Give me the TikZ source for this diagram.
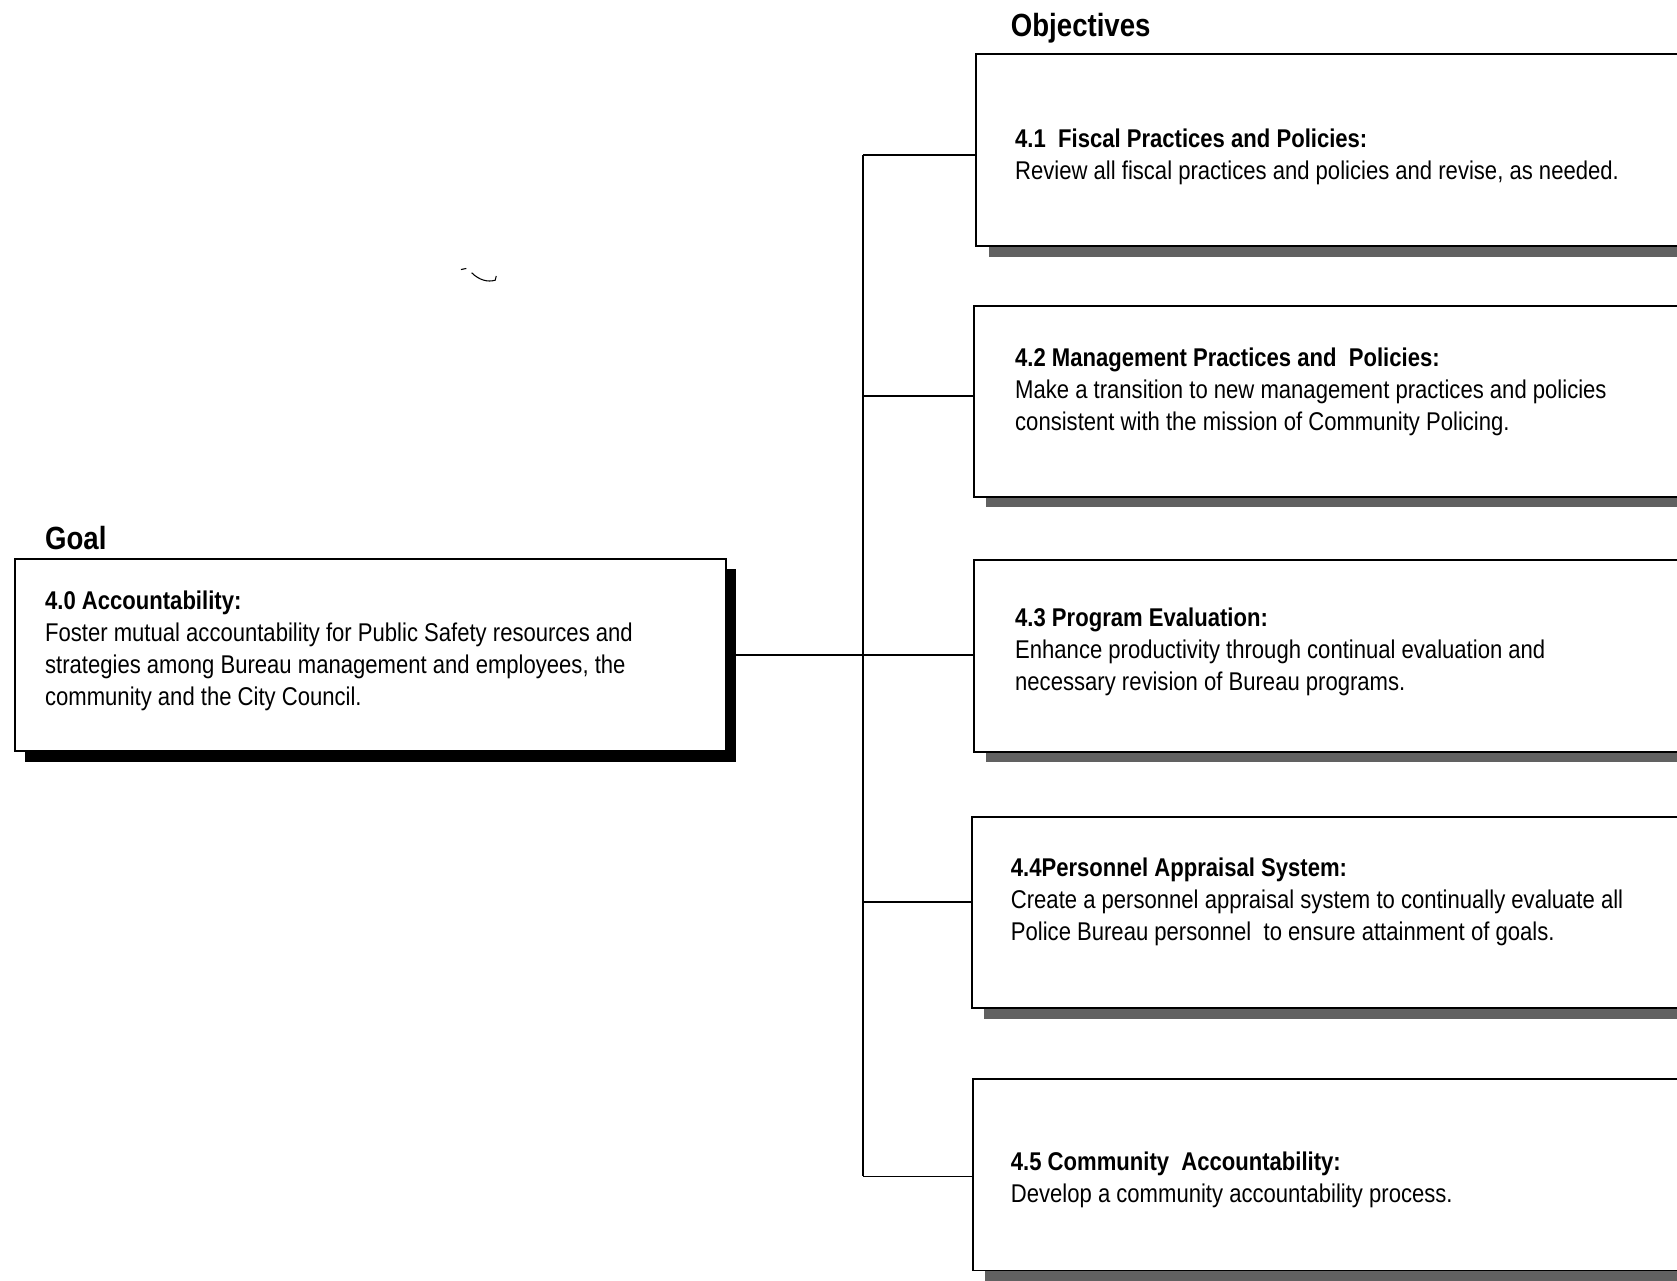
\documentclass[tikz,border=0pt]{standalone}
\usepackage{fontspec}
\setmainfont[FakeStretch=0.86]{Liberation Sans}
\begin{document}
\begin{tikzpicture}[x=1pt,y=-1pt,
  obox/.style={draw,line width=1.8pt,fill=white,minimum width=740pt,minimum height=179pt,anchor=north west,inner sep=0pt},
  gbox/.style={draw,line width=1.8pt,fill=white,minimum width=665pt,minimum height=179pt,anchor=north west,inner sep=0pt},
  txt/.style={anchor=north west,inner sep=0pt,align=left,font=\fontsize{24}{30}\selectfont},
  head/.style={anchor=west,inner sep=0pt,font=\fontsize{30}{34}\selectfont\bfseries},
  oshadow/.style={fill=black!62},
  gshadow/.style={fill=black},
  conn/.style={line width=1.7pt}]
\useasboundingbox (0,0) rectangle (1568,1197);
\clip (0,0) rectangle (1568,1197);
\fill[white] (0,0) rectangle (1568,1197);

% headings
\node[head] (objh) at (945,26) {Objectives};
\node[head] (goalh) at (42,503) {Goal};

% objective shadows
\fill[oshadow] (925,229) rectangle (1650,240);
\fill[oshadow] (922,463) rectangle (1650,474);
\fill[oshadow] (922,701) rectangle (1650,712);
\fill[oshadow] (920,941) rectangle (1650,953);
\fill[oshadow] (921,1188) rectangle (1650,1199);
% goal shadow
\fill[gshadow] (23,532) rectangle (688,712);

% boxes
\node[obox] (o1) at (912,50) {};
\node[obox] (o2) at (910,285) {};
\node[obox] (o3) at (910,523) {};
\node[obox] (o4) at (908,763) {};
\node[obox] (o5) at (909,1008) {};
\node[gbox] (g) at (13,522) {};

% texts
\node[txt] (o1t) at (949,120) {{\bfseries 4.1\ \ Fiscal Practices and Policies:}\\Review all fiscal practices and policies and revise, as needed.};
\node[txt] (o2t) at (949,325) {{\bfseries 4.2 Management Practices and\ \ Policies:}\\Make a transition to new management practices and policies\\consistent with the mission of Community Policing.};
\node[txt] (o3t) at (949,568) {{\bfseries 4.3 Program Evaluation:}\\Enhance productivity through continual evaluation and\\necessary revision of Bureau programs.};
\node[txt] (o4t) at (945,802) {{\bfseries 4.4Personnel Appraisal System:}\\Create a personnel appraisal system to continually evaluate all\\Police Bureau personnel\ \ to ensure attainment of goals.};
\node[txt] (o5t) at (945,1077) {{\bfseries 4.5 Community\ \ Accountability:}\\Develop a community accountability process.};
\node[txt] (gt) at (42,552) {{\bfseries 4.0 Accountability:}\\Foster mutual accountability for Public Safety resources and\\strategies among Bureau management and employees, the\\community and the City Council.};

% connectors
\coordinate (t1) at (807,145);
\coordinate (t2) at (807,370);
\coordinate (t4) at (807,843);
\coordinate (t5) at (807,1100);
\draw[conn] (t1) -- (t5);
\draw[conn] (t1) -- (t1 -| o1.west);
\draw[conn] (t2) -- (t2 -| o2.west);
\draw[conn] (t4) -- (t4 -| o4.west);
\draw[conn] (t5) -- (t5 -| o5.west);
\draw[conn] (g.east) -- (g.east -| o3.west);

% scan mark
\draw[line width=1pt] (431,252) -- (436,251) (441,255) .. controls (448,262) and (456,264) .. (463,262) -- (464,258);
\end{tikzpicture}
\end{document}
